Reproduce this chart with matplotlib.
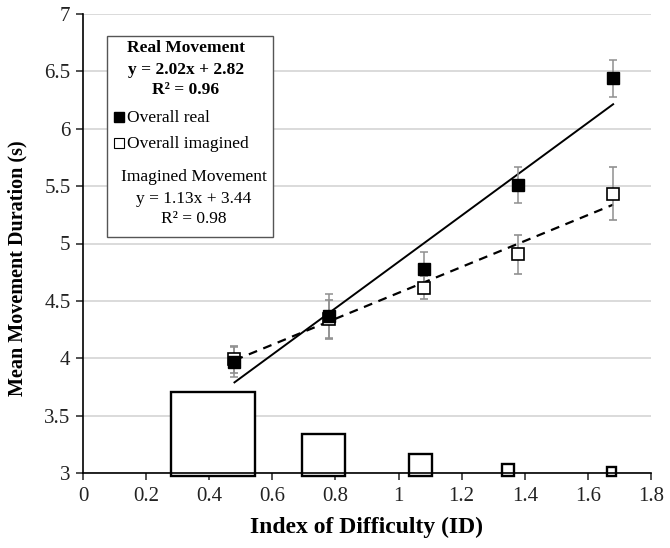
import numpy as np
import matplotlib
matplotlib.use('Agg')
import matplotlib.pyplot as plt
from matplotlib.patches import Rectangle
from matplotlib.lines import Line2D

plt.rcParams['font.family'] = ['Liberation Serif', 'DejaVu Serif']

# data
ids = [0.48, 0.78, 1.08, 1.38, 1.68]
real_mean = [3.97, 4.37, 4.78, 5.51, 6.44]
real_err = [0.13, 0.19, 0.15, 0.16, 0.16]
imag_mean = [3.99, 4.34, 4.615, 4.905, 5.435]
imag_err = [0.12, 0.17, 0.10, 0.17, 0.23]

real_slope, real_icpt = 2.02, 2.82
imag_slope, imag_icpt = 1.13, 3.44

# target size illustrations (left edge, width, top)
box_left = [0.278, 0.694, 1.033, 1.329, 1.662]
box_width = [0.268, 0.136, 0.074, 0.038, 0.027]
box_top = [3.71, 3.34, 3.163, 3.076, 3.05]
box_bottom = 2.97

W, H = 670, 548
fig = plt.figure(figsize=(6.7, 5.48), dpi=100)
ax = fig.add_axes([83 / W, 1 - 473 / H, (651 - 83) / W, (473 - 14) / H])

ax.set_xlim(0, 1.8)
ax.set_ylim(3, 7)
ax.set_xticks(np.arange(0, 1.81, 0.2))
ax.set_xticklabels(['0', '0.2', '0.4', '0.6', '0.8', '1', '1.2', '1.4', '1.6', '1.8'])
ax.set_yticks(np.arange(3, 7.01, 0.5))
ax.set_yticklabels(['3', '3.5', '4', '4.5', '5', '5.5', '6', '6.5', '7'])
ax.yaxis.grid(True, color='#d4d4d4', lw=1.2)
ax.set_axisbelow(True)
for s in ['top', 'right']:
    ax.spines[s].set_visible(False)
for s in ['left', 'bottom']:
    ax.spines[s].set_linewidth(1.2)
    ax.spines[s].set_zorder(5)
ax.tick_params(direction='out', length=5, width=1.1, labelsize=15, colors='#222222')
ax.tick_params(axis='y', pad=4)
ax.tick_params(axis='x', pad=5)

# boxes
for l, w, t in zip(box_left, box_width, box_top):
    ax.add_patch(Rectangle((l, box_bottom), w, t - box_bottom, fill=True,
                           facecolor='white', edgecolor='black', lw=1.7,
                           clip_on=False, zorder=2))

# regression lines
xs = np.array([ids[0], ids[-1]])
ax.plot(xs, real_slope * xs + real_icpt, color='black', lw=1.4, zorder=3)
ax.plot(xs, imag_slope * xs + imag_icpt, color='black', lw=1.6,
        ls=(0, (4, 3)), zorder=3)

# points with error bars
ax.errorbar(ids, imag_mean, yerr=imag_err, fmt='s', ms=8, mfc='white',
            mec='black', mew=1.2, ecolor='#909090', elinewidth=1.1,
            capsize=3, capthick=1.1, zorder=4)
ax.errorbar(ids, real_mean, yerr=real_err, fmt='s', ms=8.5, mfc='black',
            mec='black', ecolor='#909090', elinewidth=1.1,
            capsize=3, capthick=1.1, zorder=4)

ax.set_xlabel('Index of Difficulty (ID)', fontsize=17, fontweight='bold', labelpad=8)
ax.set_ylabel('Mean Movement Duration (s)', fontsize=14.5, fontweight='bold')
ax.yaxis.set_label_coords(-0.097, 0.447)

# legend box
fig.patches.append(Rectangle((107 / W, 1 - 237 / H), (273 - 107) / W, (237 - 36) / H,
                             transform=fig.transFigure, facecolor='white',
                             edgecolor='#555555', lw=1.0, zorder=10))


def ftxt(x, y, s, **kw):
    fig.text(x / W, 1 - y / H, s, fontsize=12.5, va='center', zorder=11, **kw)


ftxt(186, 48, 'Real Movement', ha='center', fontweight='bold')
ftxt(186, 70, 'y = 2.02x + 2.82', ha='center', fontweight='bold')
ftxt(186, 90, 'R² = 0.96', ha='center', fontweight='bold')
ftxt(127, 118, 'Overall real', ha='left')
ftxt(127, 144, 'Overall imagined', ha='left')
ftxt(194, 177, 'Imagined Movement', ha='center')
ftxt(194, 199, 'y = 1.13x + 3.44', ha='center')
ftxt(194, 219, 'R² = 0.98', ha='center')
fig.lines.append(Line2D([119 / W], [1 - 117 / H], marker='s', ms=7, mfc='black',
                        mec='black', transform=fig.transFigure, zorder=11))
fig.lines.append(Line2D([119 / W], [1 - 143 / H], marker='s', ms=7, mfc='white',
                        mec='black', mew=0.8, transform=fig.transFigure, zorder=11))

fig.savefig('out.png', dpi=100)
